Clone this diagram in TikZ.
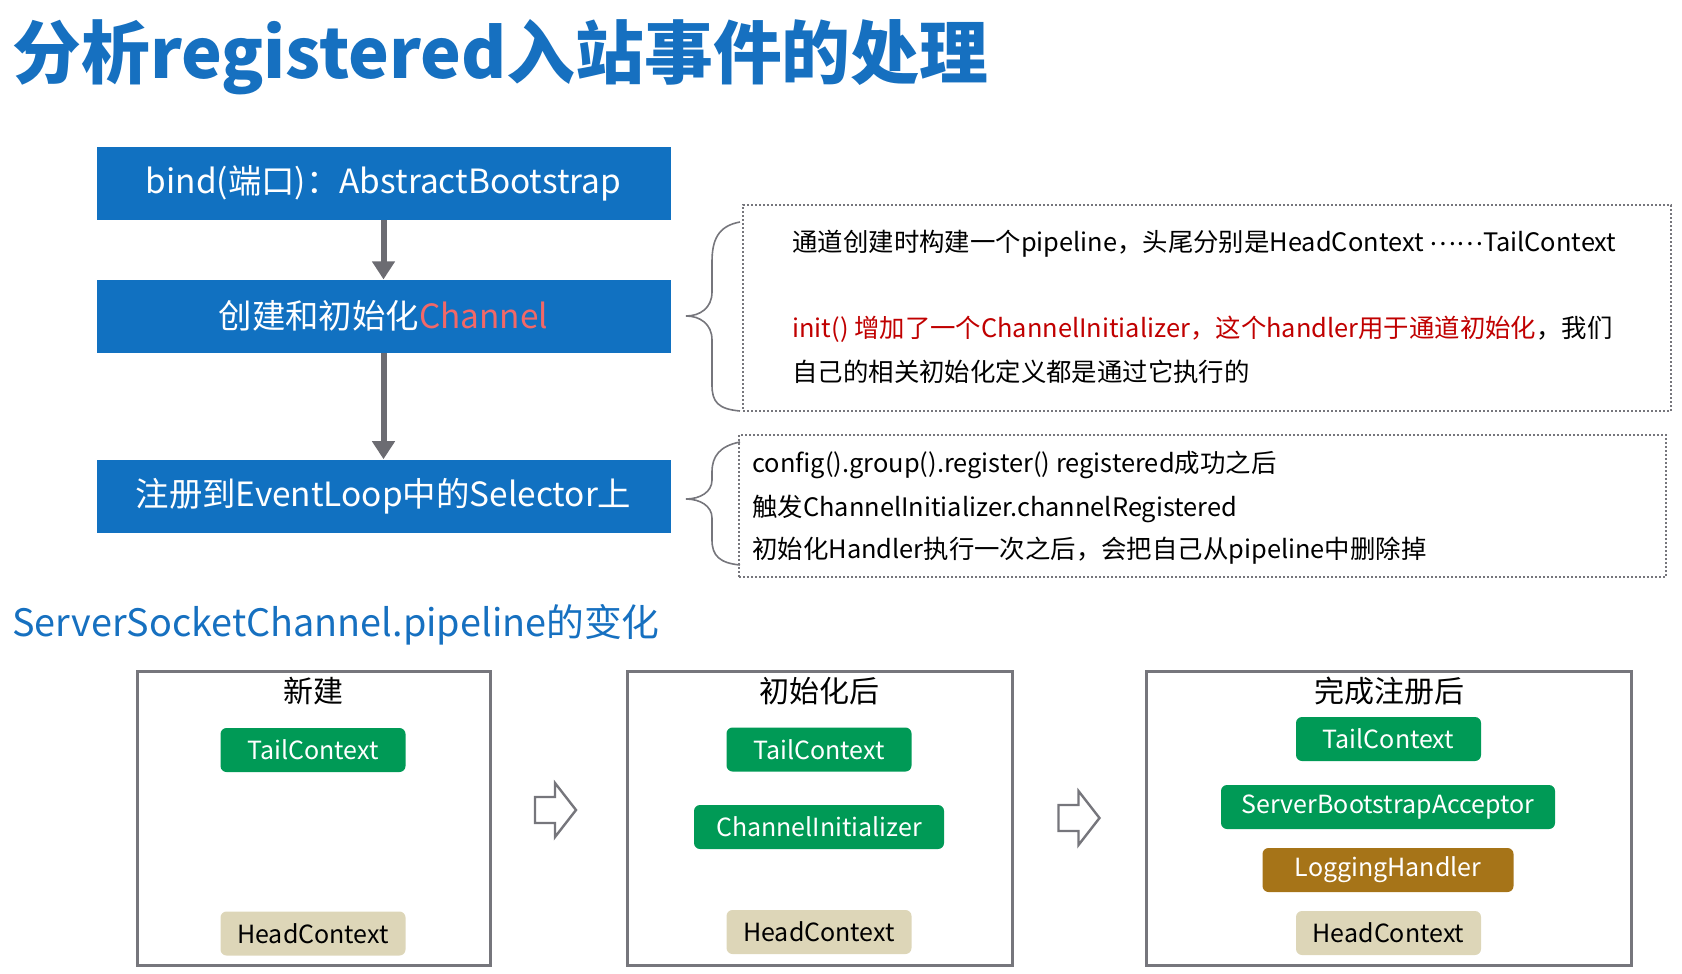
\documentclass[tikz,border=0pt]{standalone}
\usepackage{fontspec}
\setmainfont{Noto Sans CJK SC}
\usetikzlibrary{shapes,arrows.meta,positioning}

\definecolor{titleblue}{RGB}{22,112,192}
\definecolor{boxblue}{RGB}{17,113,193}
\definecolor{arrowgray}{RGB}{108,108,114}
\definecolor{framegray}{RGB}{118,118,124}
\definecolor{notered}{RGB}{192,0,0}
\definecolor{chanred}{RGB}{242,104,104}
\definecolor{ctxgreen}{RGB}{0,154,86}
\definecolor{ctxtan}{RGB}{221,214,184}
\definecolor{ctxgold}{RGB}{166,116,24}

\begin{document}
\begin{tikzpicture}[
        x=0.5pt, y=-0.5pt,
        block/.style={rectangle, fill=boxblue, text=white, inner sep=0pt,
        minimum width=287pt, minimum height=36.5pt, font=\fontsize{16.7}{20}\selectfont},
        flow/.style={line width=3pt, draw=arrowgray, -{Triangle[width=11pt,length=9pt]}},
        note/.style={rectangle, draw=framegray, line width=1pt, dash pattern=on 1pt off 1pt,
        inner sep=0pt},
        brace/.style={draw=framegray, line width=0.8pt},
        line/.style={anchor=west, inner sep=0pt, font=\fontsize{12.7}{16}\selectfont},
        panel/.style={rectangle, draw=framegray, line width=1.5pt, inner sep=0pt,
        minimum height=147pt},
        ptitle/.style={inner sep=0pt, font=\fontsize{15}{18}\selectfont},
        ctx/.style={rectangle, rounded corners=3pt, minimum height=22pt, inner sep=0pt,
        font=\fontsize{12.5}{15}\selectfont},
        tail/.style={ctx, fill=ctxgreen, text=white, minimum width=92.5pt},
        head/.style={ctx, fill=ctxtan, text=black, minimum width=92.5pt},
        hollow/.style={draw=framegray, fill=white, line width=1.2pt}
    ]

        \useasboundingbox (0,0) rectangle (1682,974);

% Title
        \node[anchor=west, inner sep=0pt, text=titleblue,
        font=\fontsize{34.4}{40}\selectfont\bfseries] (title) at (12,57) {分析registered入站事件的处理};

% Flow of bind
        \node[block] (bind) at (383.5,183.5) {bind(端口)：AbstractBootstrap};
        \node[block, below=29.5pt of bind] (create) {创建和初始化\textcolor{chanred}{Channel}};
        \node[block, below=53pt of create] (reg) {注册到EventLoop中的Selector上};

        \draw[flow] (bind) -- (create);
        \draw[flow] (create) -- (reg);

% Notes on the right
        \node[note, minimum width=464pt, minimum height=103pt] (note1) at (1207,308) {};
        \node[note, minimum width=463.5pt, minimum height=71pt] (note2) at (1202.5,506) {};

        \node[line] (n1a) at (792,243.5)
        {通道创建时构建一个pipeline，头尾分别是HeadContext \raisebox{0.22em}{……}TailContext};
        \node[line, text=notered] (n1b) at (792,329)
        {init() 增加了一个ChannelInitializer，这个handler用于通道初始化\textcolor{black}{，我们}};
        \node[line] (n1c) at (792,372) {自己的相关初始化定义都是通过它执行的};

        \node[line] (n2a) at (752,464.5) {config().group().register() registered成功之后};
        \node[line] (n2b) at (752,508.5) {触发ChannelInitializer.channelRegistered};
        \node[line] (n2c) at (752,551) {初始化Handler执行一次之后，会把自己从pipeline中删除掉};

% Braces
        \draw[brace] (740,222) .. controls (718,226) and (712,240) .. (712,262) -- (712,292)
        .. controls (712,308) and (700,316) .. (686,316)
        .. controls (700,316) and (712,324) .. (712,340) -- (712,385)
        .. controls (712,402) and (718,409) .. (740,411);
        \draw[brace] (740,442) .. controls (720,446) and (712,456) .. (712,472) -- (712,480)
        .. controls (712,492) and (700,499) .. (686,499)
        .. controls (700,499) and (712,506) .. (712,518) -- (712,540)
        .. controls (712,556) and (720,563) .. (740,565);

% Pipeline changes
        \node[anchor=west, inner sep=0pt, text=titleblue,
        font=\fontsize{18.9}{22}\selectfont] (sub) at (12,625) {ServerSocketChannel.pipeline的变化};

        \node[panel, minimum width=176.5pt] (fresh) at (313.5,818.5) {};
        \node[panel, minimum width=192.5pt] (inited) at (820,818.5) {};
        \node[panel, minimum width=242.5pt] (done) at (1389,818.5) {};

        \node[ptitle] (freshT) at (313,691) {新建};
        \node[ptitle] (initedT) at (819.5,691) {初始化后};
        \node[ptitle] (doneT) at (1389,691) {完成注册后};

        \node[tail] (freshTail) at (313,750) {TailContext};
        \node[head] (freshHead) at (313,933.5) {HeadContext};

        \node[tail] (initedTail) at (819,749.5) {TailContext};
        \node[ctx, fill=ctxgreen, text=white, minimum width=125pt] (initer) at (819,827)
        {ChannelInitializer};
        \node[head] (initedHead) at (819,932) {HeadContext};

        \node[tail] (doneTail) at (1388.5,739) {TailContext};
        \node[ctx, fill=ctxgreen, text=white, minimum width=167pt] (acceptor) at (1388,807)
        {ServerBootstrapAcceptor};
        \node[ctx, fill=ctxgold, text=white, minimum width=125.5pt] (logging) at (1388,870)
        {LoggingHandler};
        \node[head] (doneHead) at (1388.5,933) {HeadContext};

% Hollow arrows between stages
        \foreach \cx/\cy in {555.5/810, 1079/818}
        \draw[hollow, shift={(\cx,\cy)}] (-20.5,-13) -- (-0.5,-13) -- (-0.5,-27) -- (20.5,0)
        -- (-0.5,27) -- (-0.5,13) -- (-20.5,13) -- cycle;

    \end{tikzpicture}
\end{document}
